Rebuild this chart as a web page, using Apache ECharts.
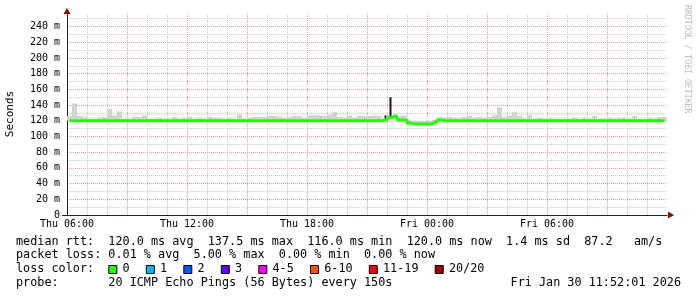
<!DOCTYPE html>
<html><head><meta charset="utf-8">
<script src="https://cdn.jsdelivr.net/npm/echarts@6/dist/echarts.min.js"></script>
<style>html,body{margin:0;padding:0;background:#fff}#c{width:697px;height:297px}</style>
</head><body><div id="c"></div>
<script>
// ---- data (hours after Thu 06:00, 15-minute columns) ----
const xTickLabels = ['Thu 06:00', 'Thu 12:00', 'Thu 18:00', 'Fri 00:00', 'Fri 06:00'];
const yAxisTitle = 'Seconds';
const stepHours = 0.25;
const medianRtt = [
120,120,120,120,120,120,120,120,120,120,
120,120,120,120,120,120,120,120,120,120,
120,120,120,120,120,120,120,120,120,120,
120,120,120,120,120,120,120,120,120,120,
120,120,120,120,120,120,120,120,120,120,
120,120,120,120,120,120,120,120,120,120,
120,120,120,121,124,126,121,121,117,116,
116,116,116,118,121,120,120,120,120,120,
120,120,120,120,120,120,120,120,120,120,
120,120,120,120,120,120,120,120,120,120,
120,120,120,120,120,120,120,120,120,120,
120,120,120,120,120,120,120,120,120,120
];
const smokeTop = [
126,142,126,125,123,123,124,125,135,127,
132,123,123,125,125,127,123,123,124,123,
123,125,123,124,125,123,124,123,125,124,
124,123,124,123,128,123,124,125,125,125,
126,126,125,124,125,126,126,124,127,127,
127,126,128,131,125,124,127,124,126,126,
126,127,126,127,150,125,126,127,121,120,
120,120,120,121,125,124,125,124,124,125,
126,124,125,124,125,127,137,125,127,131,
126,123,128,123,124,123,124,123,123,123,
123,124,123,124,123,126,123,123,124,123,
124,124,123,126,123,123,124,123,125,125
];
const darkColumns = [63, 64];
const lossLabels = ['0', '1', '2', '3', '4-5', '6-10', '11-19', '20/20'];
const lossColors = ['#26ff00', '#00b8ff', '#0059ff', '#5e00ff', '#ff00ff', '#ff5500', '#ff0000', '#a10000'];
const statLines = [
  'median rtt:  120.0 ms avg  137.5 ms max  116.0 ms min  120.0 ms now  1.4 ms sd  87.2   am/s',
  'packet loss: 0.01 % avg  5.00 % max  0.00 % min  0.00 % now',
  'loss color:',
  'probe:       20 ICMP Echo Pings (56 Bytes) every 150s'
];
const stampText = 'Fri Jan 30 11:52:01 2026';

// ---- build ----
const MONO = '"DejaVu Sans Mono", monospace';
const smokeData = smokeTop.map((t, i) => [i * stepHours, medianRtt[i], t, darkColumns.includes(i) ? 1 : 0]);
const lineData = medianRtt.map((v, i) => [i * stepHours + stepHours / 2, v]);

const chart = echarts.init(document.getElementById('c'), null, {renderer: 'canvas'});
const graphics = [];
const lineY = [241.5, 255.3, 269.1, 282.9];
statLines.forEach((s, k) => graphics.push({type: 'text', x: 16, y: lineY[k],
  style: {text: s, font: '11.8px ' + MONO, fill: '#000', verticalAlign: 'middle', textVerticalAlign: 'middle'}}));
graphics.push({type: 'text', x: 681, y: lineY[3],
  style: {text: stampText, font: '11.8px ' + MONO, fill: '#000', align: 'right', textAlign: 'right', verticalAlign: 'middle', textVerticalAlign: 'middle'}});
let cx = 108.3;
lossLabels.forEach((lab, k) => {
  graphics.push({type: 'rect', shape: {x: cx + 0.5, y: 265.5, width: 8, height: 8},
    style: {fill: lossColors[k], stroke: '#000', lineWidth: 1}});
  graphics.push({type: 'text', x: cx + 14.2, y: lineY[2],
    style: {text: lab, font: '11.8px ' + MONO, fill: '#000', verticalAlign: 'middle', textVerticalAlign: 'middle'}});
  cx += 14.2 + lab.length * 7.1 + 16.2;
});
graphics.push({type: 'text', x: 687, y: 5, rotation: -Math.PI / 2,
  style: {text: 'RRDTOOL / TOBI OETIKER', font: '8.2px ' + MONO, fill: '#bdbdbd', verticalAlign: 'middle', textVerticalAlign: 'middle'}});
graphics.push({type: 'text', x: 10.5, y: 114, rotation: Math.PI / 2,
  style: {text: yAxisTitle, font: '11px ' + MONO, fill: '#000', align: 'center', textAlign: 'center', verticalAlign: 'middle', textVerticalAlign: 'middle'}});
// axis arrows and short axis overhang
graphics.push({type: 'line', shape: {x1: 62, y1: 215.5, x2: 67, y2: 215.5}, style: {stroke: '#222', lineWidth: 1}});
graphics.push({type: 'polygon', shape: {points: [[668, 211.5], [674, 215], [668, 218.5]]}, style: {fill: '#8b0000'}});
graphics.push({type: 'polygon', shape: {points: [[63.5, 14], [67, 8], [70.5, 14]]}, style: {fill: '#8b0000'}});

const majorGrid = {color: '#e89a9a', type: [1, 1], width: 1};
const minorGrid = {color: '#c8c8c8', type: [1, 1], width: 1};

const option = {
  backgroundColor: '#fff',
  animation: false,
  grid: {left: 67, right: 30, top: 14, bottom: 82, containLabel: false},
  xAxis: {
    type: 'value', min: 0, max: 30, interval: 3,
    axisLine: {show: true, onZero: false, lineStyle: {color: '#222', width: 1}},
    axisTick: {show: false},
    axisLabel: {
      margin: 4, color: '#000', fontFamily: MONO, fontSize: 10,
      showMaxLabel: false,
      formatter: v => (v % 6 === 0 && v / 6 < xTickLabels.length) ? xTickLabels[v / 6] : ''
    },
    splitLine: {show: true, showMinLine: false, showMaxLine: false, lineStyle: majorGrid},
    minorTick: {show: false, splitNumber: 3},
    minorSplitLine: {show: true, lineStyle: minorGrid}
  },
  yAxis: {
    type: 'value', min: 0, max: 256, interval: 20,
    axisLine: {show: true, lineStyle: {color: '#222', width: 1}},
    axisTick: {show: false},
    axisLabel: {
      margin: 7, color: '#000', fontFamily: MONO, fontSize: 10,
      formatter: v => (v % 20 === 0 && v <= 240) ? (v === 0 ? '0' : v + ' m') : ''
    },
    splitLine: {show: true, showMinLine: false, showMaxLine: false, lineStyle: majorGrid},
    minorTick: {show: false, splitNumber: 2},
    minorSplitLine: {show: true, lineStyle: minorGrid}
  },
  series: [
    {
      type: 'custom', z: 2,
      data: smokeData,
      encode: {x: 0, y: [1, 2]},
      renderItem: (params, api) => {
        const t = api.value(0), lo = api.value(1), hi = api.value(2), dark = api.value(3);
        const p0 = api.coord([t, lo]);
        const p1 = api.coord([t + stepHours, hi]);
        let x = p0[0], w = p1[0] - p0[0];
        if (dark) { x = p0[0] + w / 2; w = 2; }
        return {type: 'rect', shape: {x: x, y: p1[1], width: w, height: p0[1] - p1[1]},
          style: {fill: dark ? '#1a1a1a' : '#d2d2d2'}};
      }
    },
    {
      type: 'line', z: 3, data: lineData, step: 'middle', symbol: 'none',
      lineStyle: {color: '#26ff00', width: 3}
    }
  ],
  graphic: graphics
};
chart.setOption(option);
</script>
</body></html>
